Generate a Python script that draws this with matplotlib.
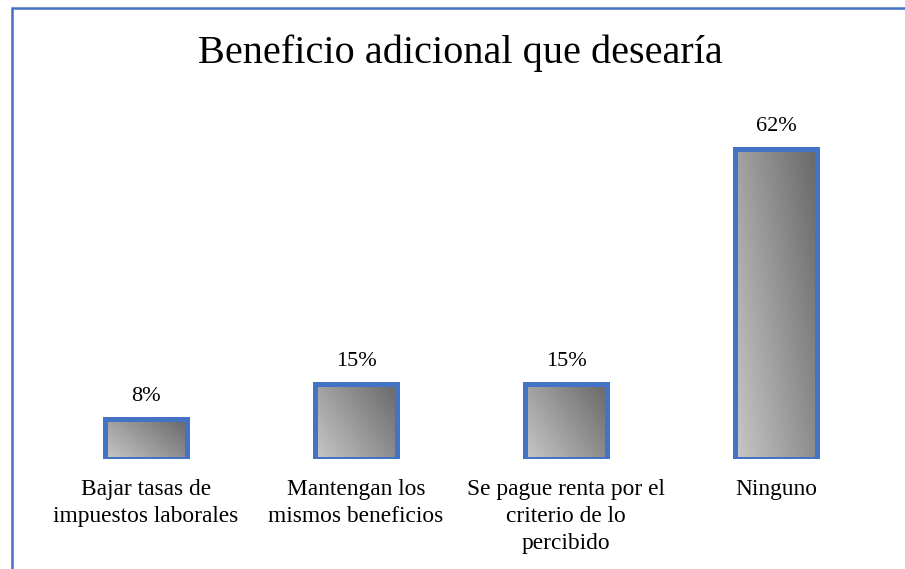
import numpy as np
import matplotlib
matplotlib.use("Agg")
import matplotlib.pyplot as plt
from matplotlib.patches import Rectangle

categories = ["Bajar tasas de\nimpuestos laborales",
              "Mantengan los\nmismos beneficios",
              "Se pague renta por el\ncriterio de lo\npercibido",
              "Ninguno"]
values = [8, 15, 15, 62]
labels = ["8%", "15%", "15%", "62%"]
title = "Beneficio adicional que desearía"

blue = "#4472C4"
serif = "Liberation Serif"

fig = plt.figure(figsize=(9.05, 5.69), dpi=100)
ax = fig.add_axes([41 / 905, 0.1942, 840 / 905, 0.6151])

# grey diagonal gradient (light bottom-left -> dark top-right)
gu, gv = np.meshgrid(np.linspace(0, 1, 64), np.linspace(0, 1, 64))
grad = 0.78 - 0.23 * gu - 0.14 * gv

w = 0.386
for i, v in enumerate(values):
    ax.imshow(grad, extent=(i - w / 2, i + w / 2, 0, v), origin="lower",
              cmap="gray", vmin=0, vmax=1, aspect="auto", zorder=1,
              interpolation="bilinear")
    ax.add_patch(Rectangle((i - w / 2, 0), w, v, facecolor="none",
                           edgecolor=blue, linewidth=3.6, zorder=2))
    ax.annotate(labels[i], xy=(i, v), xytext=(0, 12.6), textcoords="offset points",
                ha="center", va="baseline", fontsize=16, family=serif)
    ax.annotate(categories[i], xy=(i, 0), xytext=(0, -15), textcoords="offset points",
                ha="center", va="top", fontsize=16.8, family=serif, linespacing=1.38)

ax.set_xlim(-0.5, 3.5)
ax.set_ylim(0, 70)
ax.axis("off")

fig.text(0.509, 1 - 63 / 569, title, ha="center", va="baseline",
         fontsize=29, family=serif)

# chart border (cropped on the right and bottom)
fig.patches.append(Rectangle((12 / 905, -0.05), 1.2, 1.05 - 8 / 569,
                             transform=fig.transFigure, facecolor="none",
                             edgecolor=blue, linewidth=1.8, clip_on=False))

fig.savefig("out.png", dpi=100)
